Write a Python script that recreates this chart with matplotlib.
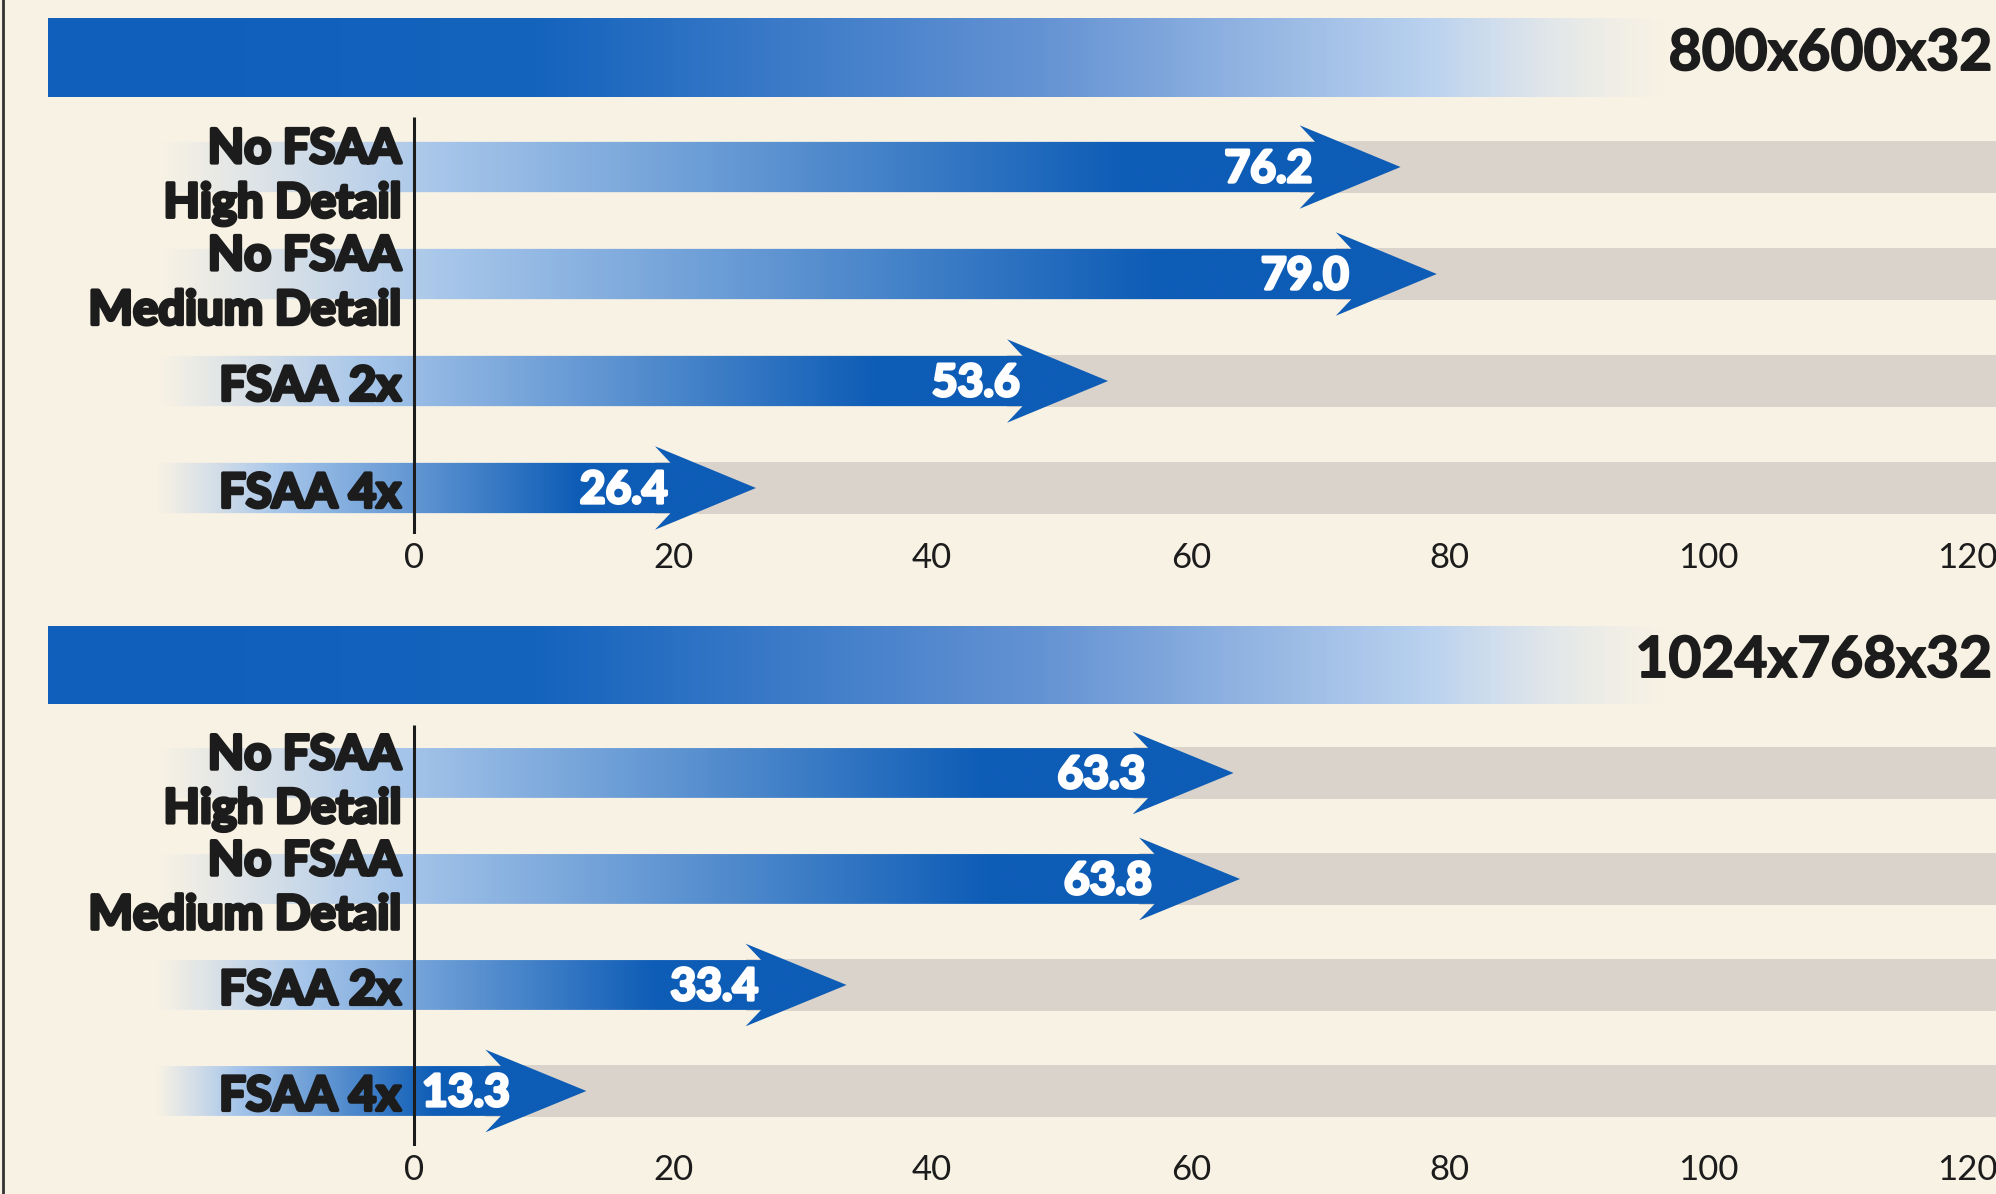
import numpy as np
import matplotlib.pyplot as plt
import matplotlib.patheffects as pe
from matplotlib.colors import LinearSegmentedColormap, to_rgba
from matplotlib.patches import Polygon
from matplotlib.lines import Line2D

# data (frames per second)
categories = [("No FSAA", "High Detail"), ("No FSAA", "Medium Detail"), ("FSAA 2x",), ("FSAA 4x",)]
fps_800 = [76.2, 79.0, 53.6, 26.4]
fps_1024 = [63.3, 63.8, 33.4, 13.3]
resolutions = ["800x600x32", "1024x768x32"]
ticks = [0, 20, 40, 60, 80, 100, 120]

paper = "#f8f2e4"
dark_blue = "#0d5cb6"
track_grey = "#dad3cb"
ink = "#1c1c1c"

arrow_cmap = LinearSegmentedColormap.from_list("arrow", [
    (0.0, (0.70, 0.80, 0.93, 0.0)),
    (0.24, (0.66, 0.78, 0.92, 1.0)),
    (0.85, to_rgba(dark_blue)),
    (1.0, to_rgba(dark_blue))])
header_cmap = LinearSegmentedColormap.from_list("header", [
    (0.0, to_rgba("#0f5fbb")),
    (0.30, to_rgba("#1463bd")),
    (0.62, (0.40, 0.58, 0.83, 1.0)),
    (0.86, (0.74, 0.83, 0.94, 1.0)),
    (1.0, (0.85, 0.89, 0.94, 0.0))])

XMIN, XMAX = -32.0, 122.2
shaft = 0.235
head = 0.39
head_len = 7.8
fade_left = -20

# no ultra bold face installed, so thicken Lato Bold with a stroke
fat_ink = [pe.withStroke(linewidth=2.6, foreground=ink)]
fat_white = [pe.withStroke(linewidth=2.2, foreground="white")]

fig = plt.figure(figsize=(19.96, 11.94), dpi=100, facecolor=paper)


def draw_panel(ax, values, res, ylim, axis_top):
    ax.set_facecolor(paper)
    rows = np.arange(len(values))

    # header bar
    xs = np.linspace(0, 1, 500)
    ax.imshow(header_cmap(xs)[None, :, :], extent=(-28.3, 97, -0.65, -1.38),
              aspect="auto", interpolation="bilinear", zorder=1)
    ax.text(XMAX - 0.3, -1.06, res, ha="right", va="center", fontsize=41,
            fontweight="bold", family="Lato", color=ink, zorder=5,
            path_effects=[pe.withStroke(linewidth=1.2, foreground=ink)])

    # grey tracks behind the arrows
    starts = [v - head_len for v in values]
    ax.barh(rows, [XMAX - s for s in starts], left=starts, height=2 * shaft + 0.02,
            color=track_grey, zorder=2)

    for r, v, cat in zip(rows, values, categories):
        base = v - head_len
        pts = [(fade_left, r - shaft), (base + 1.2, r - shaft), (base, r - head),
               (v, r), (base, r + head), (base + 1.2, r + shaft), (fade_left, r + shaft)]
        gx = np.linspace(fade_left, v, 600)
        t = np.clip((gx - fade_left) / (base - fade_left), 0, 1)
        im = ax.imshow(arrow_cmap(t)[None, :, :], extent=(fade_left, v, r + head, r - head),
                       aspect="auto", interpolation="bilinear", zorder=3)
        im.set_clip_path(Polygon(pts, closed=True, transform=ax.transData))

        # value label inside the arrow
        val = dict(va="center", color="white", fontsize=32, fontweight="bold",
                   family="Lato", zorder=6, path_effects=fat_white)
        if v < 20:
            ax.text(0.6, r + 0.02, f"{v:.1f}", ha="left", **val)
        else:
            ax.text(base + 1.0, r + 0.02, f"{v:.1f}", ha="right", **val)

        # category label
        lab = dict(ha="right", va="center", fontsize=34, fontweight="bold",
                   family="Lato", color=ink, zorder=5, path_effects=fat_ink)
        if len(cat) == 2:
            ax.text(-1.0, r - 0.17, cat[0], **lab)
            ax.text(-1.0, r + 0.34, cat[1], **lab)
        else:
            ax.text(-1.0, r + 0.05, cat[0], **lab)

    # value axis
    ax.vlines(0, axis_top, ylim[0], color=ink, lw=2.2, zorder=4)
    ax.set_xlim(XMIN, XMAX)
    ax.set_ylim(*ylim)
    ax.set_xticks(ticks)
    ax.set_xticklabels([str(t) for t in ticks], family="Lato", fontsize=25, color=ink)
    ax.tick_params(axis="x", length=0, pad=6)
    ax.set_yticks([])
    for s in ax.spines.values():
        s.set_visible(False)


ax_top = fig.add_axes([0, 1 - 534 / 1194, 1, 534 / 1194])
draw_panel(ax_top, fps_800, resolutions[0], (3.43, -1.561), -0.47)

ax_bot = fig.add_axes([0, 1 - 1146 / 1194, 1, (1146 - 597) / 1194])
draw_panel(ax_bot, fps_1024, resolutions[1], (3.519, -1.660), -0.45)

# page edge on the left of the scan
fig.add_artist(Line2D([0.0015, 0.0015], [0, 1], transform=fig.transFigure, color="#333333", lw=2))

fig.savefig("out.png", dpi=100, facecolor=paper)
